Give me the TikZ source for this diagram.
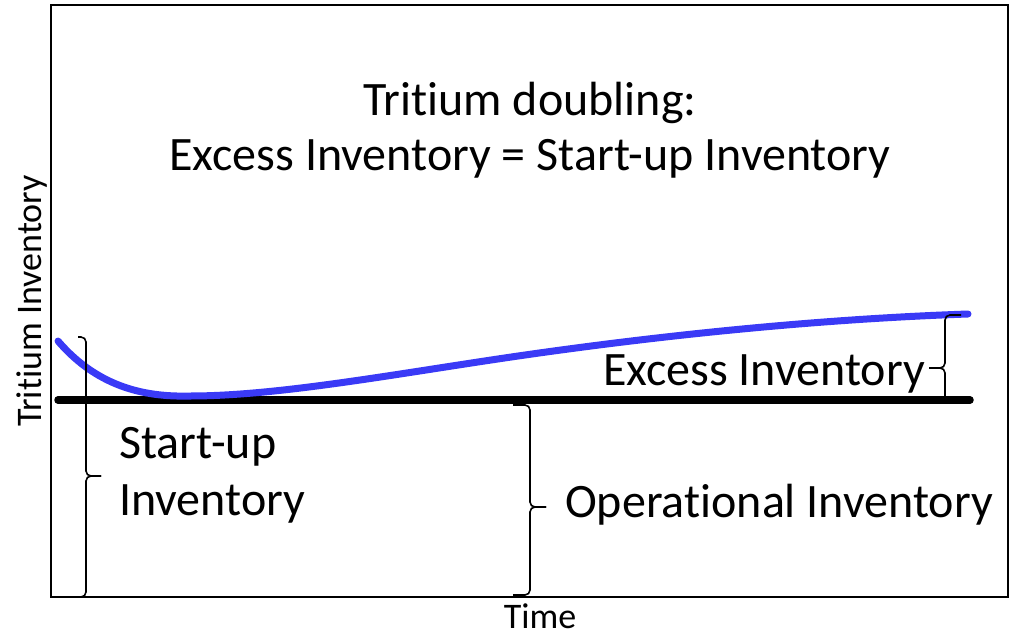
\documentclass[tikz,border=0pt]{standalone}
\usepackage{fontspec}
\setmainfont{Carlito}[Ligatures={NoCommon}]
\definecolor{curveblue}{RGB}{58,58,246}
\begin{document}
\begin{tikzpicture}[x=1pt,y=-1pt,
  bigtext/.style={inner sep=0pt,font=\fontsize{48}{56}\selectfont},
  axtext/.style={inner sep=0pt,font=\fontsize{36}{44}\selectfont},
  bracestyle/.style={draw=black,line width=1.6pt,rounded corners=5pt},
  frame/.style={draw=black,line width=2pt}]
\useasboundingbox (0,0) rectangle (1012,637);
% frame
\draw[frame] (51,5) rectangle (1008,597);
% baseline (operational level)
\coordinate (bl0) at (58,400);
\coordinate (bl1) at (970,400);
\draw[line width=7.5pt,line cap=round] (bl0) -- (bl1);
% inventory curve
\coordinate (c0) at (58,341);
\coordinate (cmin) at (190,396);
\coordinate (cmid) at (525,355);
\coordinate (c1) at (968,314);
\draw[curveblue,line width=7pt,line cap=round]
  (c0) .. controls (100,390) and (150,397) .. (cmin)
       .. controls (280,396) and (400,373) .. (cmid)
       .. controls (700,330) and (850,318) .. (c1);
% left brace (start-up inventory)
\coordinate (lbt) at (78,337);
\coordinate (lbb) at (70,597);
\coordinate (lbtip) at (101,476);
\draw[bracestyle] (lbt) -- (86,337) -- (86,476) -- (lbtip);
\draw[bracestyle] (lbtip) -- (86,476) -- (86,597) -- (lbb);
% middle brace (operational inventory)
\coordinate (mbt) at (513,405);
\coordinate (mbb) at (513,595);
\coordinate (mbtip) at (546,507);
\draw[bracestyle] (mbt) -- (530,405) -- (530,507) -- (mbtip);
\draw[bracestyle] (mbtip) -- (530,507) -- (530,595) -- (mbb);
% right brace (excess inventory)
\coordinate (rbt) at (961,315);
\coordinate (rbb) at (946,397);
\coordinate (rbtip) at (929,368);
\draw[bracestyle] (rbt) -- (945,315) -- (945,368) -- (rbtip);
\draw[bracestyle] (rbtip) -- (945,368) -- (945,397);
% texts
\node[bigtext,anchor=base] (t1) at (530,115) {Tritium doubling:};
\node[bigtext,anchor=base] (t2) at (530,170) {Excess Inventory = Start-up Inventory};
\node[bigtext,anchor=base west] (ex) at (603,385) {Excess Inventory};
\node[bigtext,anchor=base west] (su1) at (119,458) {Start-up};
\node[bigtext,anchor=base west] (su2) at (119,515) {Inventory};
\node[bigtext,anchor=base west] (op) at (565,517) {Operational Inventory};
\node[axtext,anchor=base,text depth=0pt] (time) at (540,628) {Time};
\node[axtext,anchor=base,rotate=90] (tinv) at (41,301) {Tritium Inventory};
\end{tikzpicture}
\end{document}
